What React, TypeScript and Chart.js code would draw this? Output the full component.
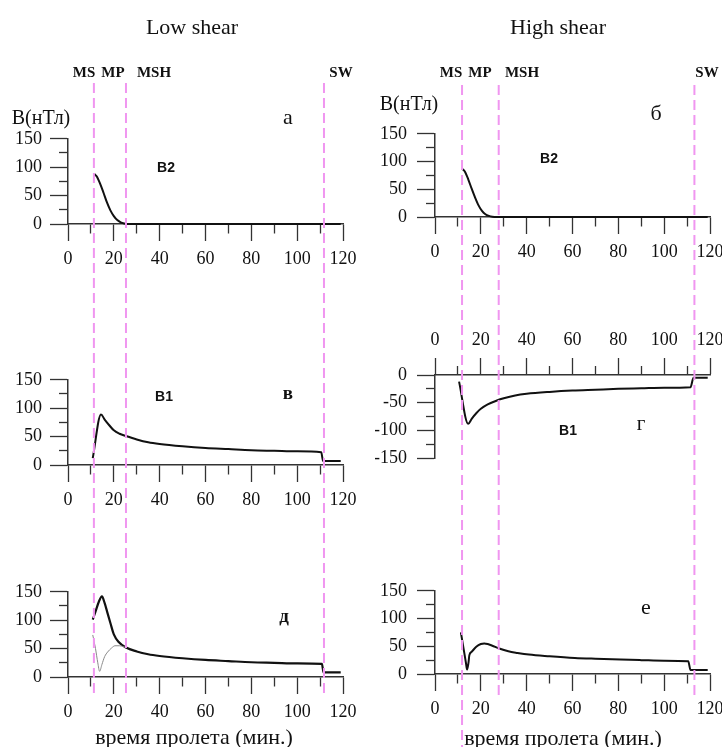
import React, { useEffect, useRef } from 'react';
import { Chart, registerables } from 'chart.js';

Chart.register(...registerables);

// ---------- DATA (time in minutes, field in nT) ----------
// Panel а: B2, low shear
const timeA = [11.5, 12.5, 14, 15.5, 17, 18.5, 20, 21.5, 23, 24.5, 26, 40, 60, 80, 100, 112, 119];
const b2Low = [88, 84, 71, 55, 38, 24, 14, 7, 3, 1, 0, 0, 0, 0, 0, 0, 0];
// Panel б: B2, high shear
const timeB = [11.8, 13, 14.5, 16, 17.5, 19, 20.5, 22, 23.5, 25, 27, 40, 60, 80, 100, 113, 119];
const b2High = [87, 82, 68, 51, 35, 21, 11, 5, 2, 0.5, 0, 0, 0, 0, 0, 0, 0];
// Panel в: B1, low shear
const timeV = [10.8, 14.4, 16, 18, 20, 22.5, 25.3, 30, 35, 40, 50, 60, 70, 80, 90, 100, 110.5, 111.3, 119];
const b1Low = [12, 89, 80, 70, 61, 55, 51, 45, 40, 37, 33, 30, 28, 26, 25, 24, 22.5, 7, 7];
// Panel г: B1, high shear
const timeG = [10.5, 14.5, 16, 18, 20, 23, 27, 30, 35, 40, 50, 60, 70, 80, 90, 100, 111.5, 112.8, 119];
const b1High = [-12, -88, -79, -69, -61, -53, -46, -42, -37, -34, -30.5, -28, -26.5, -25, -24, -23, -22, -5, -5];
// Panel д: |B|, low shear (thick) and the thin companion curve
const timeD = [10.8, 12, 13.5, 14.8, 16, 17, 18.5, 20, 22, 25.3, 30, 35, 40, 50, 60, 70, 80, 90, 100, 110.8, 111.5, 119];
const bTotLow = [101, 115, 133, 142, 130, 116, 95, 75, 62, 52, 45, 40, 37, 33, 30, 28, 26, 25, 24, 23, 8, 8];
const timeD2 = [10.8, 12, 13, 13.8, 14.8, 16, 17.3, 19, 20.5, 22.5, 24, 25.3];
const bThinLow = [74, 50, 25, 10, 22, 36, 44, 51, 55, 55, 53.5, 52];
// Panel е: |B|, high shear
const timeE = [11.3, 12.5, 13.5, 14, 14.6, 15, 16, 18, 20, 21.5, 23, 25, 28, 32, 36, 41, 50, 61, 70, 81, 90, 100, 110.5, 111.5, 119];
const bTotHigh = [75, 45, 20, 8, 20, 34, 40, 49, 54, 55, 54, 51, 46, 41, 38, 35, 32, 29, 27.5, 26, 25, 24, 23, 7, 7];

// Boundaries (MS, MSH, SW) in minutes
const lowShearBounds = [11.3, 25.3, 111.7];
const highShearBounds = [11.8, 27.8, 113.2];

// Tick labels
const xTickLabels = [0, 20, 40, 60, 80, 100, 120];
const yTickLabelsPos = [0, 50, 100, 150];
const yTickLabelsNeg = [0, -50, -100, -150];

// ---------- STYLE ----------
const SERIF = "'Liberation Serif', 'Times New Roman', serif";
const SANS = "'Liberation Sans', Arial, sans-serif";
const AXIS = '#333';
const PINK = '#f096f0';

type Series = { x: number[]; y: number[]; color: string; width: number };

function panelConfig(o: {
  xPos: 'top' | 'bottom';
  yMin: number;
  yMax: number;
  yLabels: number[];
  padL: number;
  padR: number;
  padT: number;
  padB: number;
  yPad: number;
  series: Series[];
}): any {
  const xMinor = (c: any) => c.tick && xTickLabels.indexOf(c.tick.value) < 0;
  const yMinor = (c: any) => c.tick && c.tick.value % 50 !== 0;
  return {
    type: 'line',
    data: {
      datasets: o.series.map((s) => ({
        data: s.x.map((t, i) => ({ x: t, y: s.y[i] })),
        borderColor: s.color,
        borderWidth: s.width,
        pointRadius: 0,
        fill: false,
        cubicInterpolationMode: 'monotone',
        clip: false,
      })),
    },
    options: {
      animation: false,
      responsive: false,
      events: [],
      layout: { padding: { left: o.padL, right: o.padR, top: o.padT, bottom: o.padB } },
      plugins: { legend: { display: false }, tooltip: { enabled: false }, title: { display: false } },
      scales: {
        x: {
          type: 'linear',
          position: o.xPos,
          min: 0,
          max: 120,
          afterFit: (s: any) => {
            s.height = 45;
          },
          ticks: {
            stepSize: 10,
            autoSkip: false,
            maxRotation: 0,
            padding: 7,
            color: '#111',
            font: { family: SERIF, size: 18 },
            callback: (v: any) => (xTickLabels.indexOf(v) >= 0 ? String(v) : ''),
          },
          grid: {
            drawOnChartArea: false,
            drawTicks: true,
            tickLength: 17,
            tickColor: AXIS,
            tickWidth: 1.3,
            tickBorderDash: (c: any) => (xMinor(c) ? [9, 8] : []),
            tickBorderDashOffset: (c: any) => (xMinor(c) && o.xPos === 'top' ? 9 : 0),
          },
          border: { display: true, color: AXIS, width: 1.5 },
        },
        y: {
          type: 'linear',
          position: 'left',
          min: o.yMin,
          max: o.yMax,
          afterFit: (s: any) => {
            s.width = 60;
          },
          ticks: {
            stepSize: 25,
            autoSkip: false,
            padding: o.yPad,
            color: '#111',
            font: { family: SERIF, size: 18 },
            callback: (v: any) => (o.yLabels.indexOf(v) >= 0 ? String(v) : ''),
          },
          grid: {
            drawOnChartArea: false,
            drawTicks: true,
            tickLength: 18,
            tickColor: AXIS,
            tickWidth: 1.3,
            tickBorderDash: (c: any) => (yMinor(c) ? [9, 9] : []),
            tickBorderDashOffset: (c: any) => (yMinor(c) ? 9 : 0),
          },
          border: { display: true, color: AXIS, width: 1.5 },
        },
      },
    },
  };
}

function overlayConfig(bounds: number[], tops: number[], ends: number[], padL: number, padR: number): any {
  return {
    type: 'line',
    data: {
      datasets: bounds.map((b, i) => ({
        data: [
          { x: b, y: tops[i] },
          { x: b, y: ends[i] },
        ],
        borderColor: PINK,
        borderWidth: 2,
        borderDash: [10, 5],
        pointRadius: 0,
        clip: false,
      })),
    },
    options: {
      animation: false,
      responsive: false,
      events: [],
      layout: { padding: { left: padL, right: padR, top: 0, bottom: 0 } },
      plugins: { legend: { display: false }, tooltip: { enabled: false } },
      scales: {
        x: { type: 'linear', min: 0, max: 120, display: false },
        y: { type: 'linear', min: 0, max: 747, reverse: true, display: false },
      },
    },
  };
}

function ChartCanvas(props: { config: any; left: number; top: number; width: number; height: number; z: number }) {
  const ref = useRef<HTMLCanvasElement | null>(null);
  useEffect(() => {
    const chart = new Chart(ref.current as HTMLCanvasElement, props.config);
    return () => chart.destroy();
  }, []);
  return (
    <canvas
      ref={ref}
      width={props.width}
      height={props.height}
      style={{
        position: 'absolute',
        left: props.left,
        top: props.top,
        width: props.width,
        height: props.height,
        zIndex: props.z,
        pointerEvents: 'none',
      }}
    />
  );
}

type Label = { text: string; x: number; y: number; size: number; bold?: boolean; family?: string };

const labels: Label[] = [
  { text: 'Low shear', x: 192, y: 27, size: 22 },
  { text: 'High shear', x: 558, y: 27, size: 22 },
  { text: 'MS', x: 84, y: 72, size: 15, bold: true },
  { text: 'MP', x: 113, y: 72, size: 15, bold: true },
  { text: 'MSH', x: 154, y: 72, size: 15, bold: true },
  { text: 'SW', x: 341, y: 72, size: 15, bold: true },
  { text: 'MS', x: 451, y: 72, size: 15, bold: true },
  { text: 'MP', x: 480, y: 72, size: 15, bold: true },
  { text: 'MSH', x: 522, y: 72, size: 15, bold: true },
  { text: 'SW', x: 707, y: 72, size: 15, bold: true },
  { text: 'B(нТл)', x: 41, y: 117, size: 20 },
  { text: 'B(нТл)', x: 409, y: 103, size: 20 },
  { text: 'а', x: 288, y: 117, size: 22 },
  { text: 'б', x: 656, y: 113, size: 22 },
  { text: 'B2', x: 166, y: 167, size: 14, bold: true, family: SANS },
  { text: 'B2', x: 549, y: 158, size: 14, bold: true, family: SANS },
  { text: 'B1', x: 164, y: 396, size: 14, bold: true, family: SANS },
  { text: 'B1', x: 568, y: 430, size: 14, bold: true, family: SANS },
  { text: 'в', x: 288, y: 392, size: 19, bold: true },
  { text: 'г', x: 641, y: 423, size: 21 },
  { text: 'д', x: 284, y: 615, size: 19, bold: true },
  { text: 'е', x: 646, y: 607, size: 22 },
  { text: 'время пролета (мин.)', x: 194, y: 737, size: 22 },
  { text: 'время пролета (мин.)', x: 563, y: 738, size: 22 },
];

// canvas geometry: left column chart area x 68..343, right column 435..710
const LEFT_COL = { left: 0, width: 365, padL: 8, padR: 22 };
const RIGHT_COL = { left: 361, width: 371, padL: 14, padR: 22 };

export default function App() {
  const black = '#111';
  return (
    <div style={{ position: 'absolute', left: 0, top: 0, width: 722, height: 747, background: '#fff', overflow: 'hidden' }}>
      {/* Left column */}
      <ChartCanvas
        left={LEFT_COL.left}
        top={120}
        width={LEFT_COL.width}
        height={154}
        z={1}
        config={panelConfig({
          xPos: 'bottom', yMin: 0, yMax: 150, yLabels: yTickLabelsPos, padL: LEFT_COL.padL, padR: LEFT_COL.padR, padT: 12, padB: 5, yPad: 8,
          series: [{ x: timeA, y: b2Low, color: black, width: 2 }],
        })}
      />
      <ChartCanvas
        left={LEFT_COL.left}
        top={361}
        width={LEFT_COL.width}
        height={154}
        z={1}
        config={panelConfig({
          xPos: 'bottom', yMin: 0, yMax: 150, yLabels: yTickLabelsPos, padL: LEFT_COL.padL, padR: LEFT_COL.padR, padT: 12, padB: 5, yPad: 8,
          series: [{ x: timeV, y: b1Low, color: black, width: 2 }],
        })}
      />
      <ChartCanvas
        left={LEFT_COL.left}
        top={573}
        width={LEFT_COL.width}
        height={154}
        z={1}
        config={panelConfig({
          xPos: 'bottom', yMin: 0, yMax: 150, yLabels: yTickLabelsPos, padL: LEFT_COL.padL, padR: LEFT_COL.padR, padT: 12, padB: 5, yPad: 8,
          series: [
            { x: timeD2, y: bThinLow, color: '#888', width: 1 },
            { x: timeD, y: bTotLow, color: black, width: 2.2 },
          ],
        })}
      />
      {/* Right column */}
      <ChartCanvas
        left={RIGHT_COL.left}
        top={113}
        width={RIGHT_COL.width}
        height={154}
        z={1}
        config={panelConfig({
          xPos: 'bottom', yMin: 0, yMax: 150, yLabels: yTickLabelsPos, padL: RIGHT_COL.padL, padR: RIGHT_COL.padR, padT: 12, padB: 5, yPad: 10,
          series: [{ x: timeB, y: b2High, color: black, width: 2 }],
        })}
      />
      <ChartCanvas
        left={RIGHT_COL.left}
        top={325}
        width={RIGHT_COL.width}
        height={154}
        z={1}
        config={panelConfig({
          xPos: 'top', yMin: -150, yMax: 0, yLabels: yTickLabelsNeg, padL: RIGHT_COL.padL, padR: RIGHT_COL.padR, padT: 5, padB: 12, yPad: 10,
          series: [{ x: timeG, y: b1High, color: black, width: 2 }],
        })}
      />
      <ChartCanvas
        left={RIGHT_COL.left}
        top={570}
        width={RIGHT_COL.width}
        height={154}
        z={1}
        config={panelConfig({
          xPos: 'bottom', yMin: 0, yMax: 150, yLabels: yTickLabelsPos, padL: RIGHT_COL.padL, padR: RIGHT_COL.padR, padT: 12, padB: 5, yPad: 10,
          series: [{ x: timeE, y: bTotHigh, color: black, width: 2 }],
        })}
      />
      {/* Boundary dashed lines */}
      <ChartCanvas
        left={0}
        top={0}
        width={361}
        height={747}
        z={2}
        config={overlayConfig(lowShearBounds, [83, 83, 83], [695, 695, 695], 68, 18)}
      />
      <ChartCanvas
        left={361}
        top={0}
        width={361}
        height={747}
        z={2}
        config={overlayConfig(highShearBounds, [85, 85, 85], [747, 697, 697], 74, 12)}
      />
      {labels.map((l, i) => (
        <div
          key={i}
          style={{
            position: 'absolute',
            left: l.x,
            top: l.y,
            transform: 'translate(-50%, -50%)',
            whiteSpace: 'nowrap',
            lineHeight: 1,
            fontFamily: l.family || SERIF,
            fontSize: l.size,
            fontWeight: l.bold ? 'bold' : 'normal',
            color: '#111',
            zIndex: 3,
          }}
        >
          {l.text}
        </div>
      ))}
    </div>
  );
}
